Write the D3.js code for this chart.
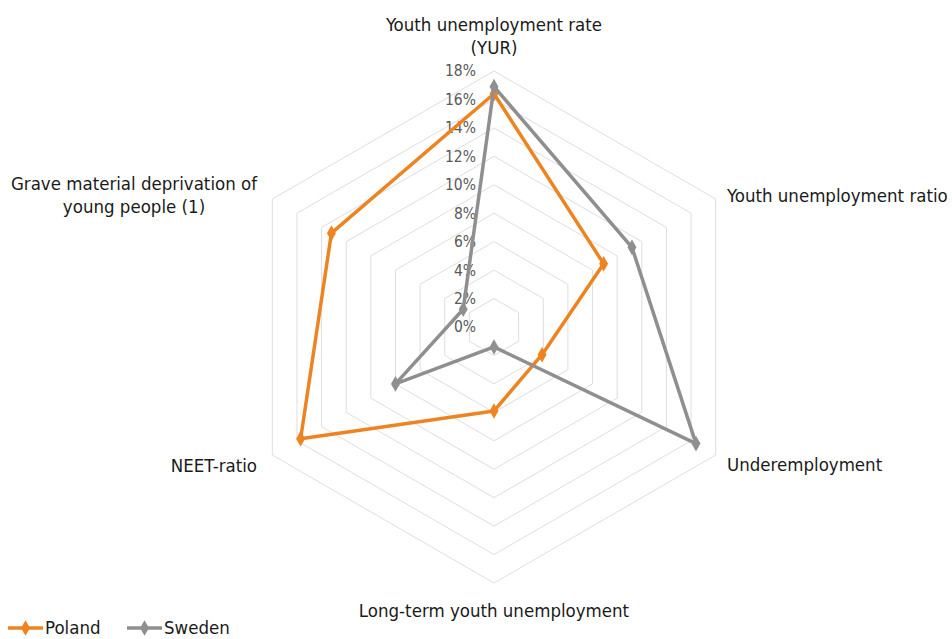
<!DOCTYPE html>
<html><head><meta charset="utf-8">
<script src="https://cdn.jsdelivr.net/npm/d3@7"></script>
<style>
html,body{margin:0;padding:0;background:#fff;}
svg{display:block;}
text{font-family:"DejaVu Sans Condensed","Noto Sans",sans-serif;}
</style></head>
<body>
<svg id="chart" width="952" height="639"></svg>
<script>
const categories = ["Youth unemployment rate (YUR)", "Youth unemployment ratio", "Underemployment", "Long-term youth unemployment", "NEET-ratio", "Grave material deprivation of young people (1)"];
const seriesNames = ["Poland", "Sweden"];
const poland = [16.4, 8.9, 3.9, 5.9, 15.7, 13.2];
const sweden = [16.9, 11.2, 16.4, 1.4, 8.0, 2.5];
const tickValues = [0, 2, 4, 6, 8, 10, 12, 14, 16, 18];
const colors = ["#EE8421", "#8F8F8F"];

const svg = d3.select("#chart");
const cx = 494, cy = 327, R = 256;
const r = d3.scaleLinear().domain([0, 18]).range([0, R]);
const ang = d3.scaleLinear().domain([0, categories.length]).range([0, 2 * Math.PI]);
const pt = (i, v) => [cx + r(v) * Math.sin(ang(i)), cy - r(v) * Math.cos(ang(i))];

// grid rings
const g = svg.append("g");
tickValues.filter(t => t > 0).forEach(t => {
  g.append("path")
    .attr("d", d3.line()(categories.map((c, i) => pt(i, t))) + "Z")
    .attr("fill", "none").attr("stroke", "#dedede").attr("stroke-width", 1);
});

// tick labels
g.selectAll("text.tick").data(tickValues).join("text")
  .attr("class", "tick")
  .attr("x", cx - 18).attr("y", d => cy - r(d))
  .attr("dy", "0.35em").attr("text-anchor", "end")
  .attr("font-size", 15.5).attr("fill", "#595959")
  .text(d => d + "%");

// category labels
const labelFont = 18.5;
const labels = [
  {lines: ["Youth unemployment rate", "(YUR)"], x: cx, y: 25, anchor: "middle"},
  {lines: ["Youth unemployment ratio"], x: 727, y: 196, anchor: "start"},
  {lines: ["Underemployment"], x: 727, y: 465, anchor: "start"},
  {lines: ["Long-term youth unemployment"], x: cx, y: 611, anchor: "middle"},
  {lines: ["NEET-ratio"], x: 257, y: 466, anchor: "end"},
  {lines: ["Grave material deprivation of", "young people (1)"], x: 134, y: 184, anchor: "middle"}
];
labels.forEach(l => {
  const t = svg.append("text").attr("text-anchor", l.anchor)
    .attr("font-size", labelFont).attr("fill", "#1a1a1a");
  l.lines.forEach((s, k) => {
    t.append("tspan").attr("x", l.x).attr("y", l.y + k * 23).attr("dy", "0.35em").text(s);
  });
});

const diamond = d3.symbol().type(d3.symbolDiamond).size(70);
const series = [poland, sweden];
series.forEach((vals, si) => {
  const pts = vals.map((v, i) => pt(i, v));
  svg.append("path")
    .attr("d", d3.line()(pts) + "Z")
    .attr("fill", "none").attr("stroke", colors[si]).attr("stroke-width", 3.5)
    .attr("stroke-linejoin", "round");
  svg.selectAll(null).data(pts).join("path")
    .attr("transform", d => `translate(${d[0]},${d[1]})`)
    .attr("d", diamond).attr("fill", colors[si]);
});

// legend
const leg = svg.append("g");
const legX = [8, 127];
seriesNames.forEach((n, si) => {
  const x0 = legX[si], y0 = 628;
  leg.append("line").attr("x1", x0).attr("x2", x0 + 35).attr("y1", y0).attr("y2", y0)
    .attr("stroke", colors[si]).attr("stroke-width", 3.5);
  leg.append("path").attr("transform", `translate(${x0 + 17.5},${y0})`)
    .attr("d", diamond).attr("fill", colors[si]);
  leg.append("text").attr("x", x0 + 37).attr("y", y0).attr("dy", "0.35em")
    .attr("font-size", labelFont).attr("fill", "#1a1a1a").text(n);
});
</script>
</body></html>
